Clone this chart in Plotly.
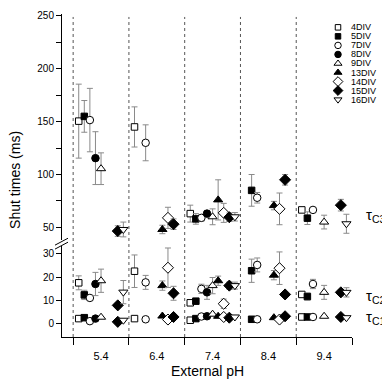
import plotly.graph_objects as go

# ---------------- data ----------------
PH = ["5.4", "6.4", "7.4", "8.4", "9.4"]
SERIES = ["4DIV", "5DIV", "7DIV", "8DIV", "9DIV", "13DIV", "14DIV", "15DIV", "16DIV"]

# tau C3 (upper panel) mean and error, per series, per pH
TC3 = [
    [150.5, 145, 63, None, 66.5],
    [155, None, 58, 85, 58.7],
    [151.5, 130, 59, 78, 66.5],
    [115.5, None, 63, None, None],
    [105.5, None, 60, None, 55],
    [None, 48, 76, 70.6, None],
    [None, 59, 63.7, 67.5, None],
    [46.5, 53, 59.6, 95, 71],
    [48, None, 60, None, 53.4],
]
TC3_ERR = [
    [35, 19, 8, None, 2],
    [15, None, 5, 15, 6],
    [30, 17, 3, 5, 2],
    [25, None, 3, None, None],
    [15, None, 7.5, None, 6.5],
    [None, 4, 19, 4, None],
    [None, 10, 9, 15, None],
    [5, 5, 4, 5, 5.5],
    [7, None, 4, None, 9],
]
# tau C2 (lower panel)
TC2 = [
    [17.5, 22.5, 8.9, None, 12.5],
    [12.3, None, 9.6, 22.7, 11.6],
    [11, 17.7, 14.9, 25.2, 17],
    [17, None, 13.4, None, None],
    [18.4, None, 16.3, None, 13.4],
    [None, 16.3, 18.4, 20.8, None],
    [None, 24, 8.5, 23.8, None],
    [7.8, 13, 16.3, 12.5, 13.4],
    [13.5, None, 16.3, None, 13.4],
]
TC2_ERR = [
    [3, 7, 1, None, 1],
    [2, None, 1, 5, 1.5],
    [1, 3, 2, 3, 2],
    [5, None, 3, None, None],
    [5, None, 3.5, None, 3],
    [None, 2, 2, 2, None],
    [None, 8.5, 2, 7, None],
    [1, 3, 1.5, 1, 1],
    [5, None, 1.5, None, 2],
]
# tau C1 (lower panel)
TC1 = [
    [2.1, 2.1, 1.4, None, 2.8],
    [2.5, None, 2.1, 1.8, 2.8],
    [1.0, 1.8, 3.0, 1.8, 2.8],
    [2.1, None, 3.1, None, None],
    [2.7, None, 4.0, None, 3.1],
    [None, 3.2, 3.1, 2.5, None],
    [None, 1.7, 2.8, 1.7, None],
    [0.7, 2.8, 2.5, 3.1, 2.8],
    [1.4, None, 2.8, None, 2.5],
]

UPPER_TICKS = [50, 100, 150, 200, 250]
UPPER_MINOR = [75, 125, 175, 225]
LOWER_TICKS = [0, 10, 20, 30]

# ---------------- styles ----------------
FONT = "Liberation Sans, Arial, sans-serif"
ERR_COLOR = "#8a8a8a"
STYLE = {
    "4DIV": ("square", "white", 6.5),
    "5DIV": ("square", "black", 6.5),
    "7DIV": ("circle", "white", 7.5),
    "8DIV": ("circle", "black", 7.5),
    "9DIV": ("triangle-up", "white", 8),
    "13DIV": ("triangle-up", "black", 8),
    "14DIV": ("diamond", "white", 8.5),
    "15DIV": ("diamond", "black", 8.5),
    "16DIV": ("triangle-down", "white", 8),
}

# page body has an 8px default margin: plot area on screen is x 62..352, y 10..337
PAGE_OFF = 8
SX0, SX1, SY0, SY1 = 62, 352, 10, 337
W, H = 390, 387
PW, PH_PX = SX1 - SX0, SY1 - SY0
U_BOT = 239  # screen px of upper panel bottom
L_TOPPX = 245  # screen px of lower panel top

N = len(PH)
fig = go.Figure()


def z(v):
    return [0 if e is None else e for e in v]


for k, s in enumerate(SERIES):
    sym, fill, size = STYLE[s]
    off = (k + 1) / 10
    xs = [i + off for i in range(N)]
    mk = dict(symbol=sym, color=fill, size=size, line=dict(color="black", width=1))
    eb = dict(type="data", color=ERR_COLOR, thickness=1, width=3)
    fig.add_trace(go.Scatter(
        x=xs, y=TC3[k], mode="markers", marker=mk,
        error_y=dict(eb, array=z(TC3_ERR[k])),
        xaxis="x", yaxis="y2", showlegend=False, cliponaxis=False))
    fig.add_trace(go.Scatter(
        x=xs + xs, y=TC2[k] + TC1[k], mode="markers", marker=mk,
        error_y=dict(eb, array=z(TC2_ERR[k]) + [0] * N),
        xaxis="x", yaxis="y", showlegend=False, cliponaxis=False))

# custom compact legend (marker column + text)
L_TOP, L_STEP = 23.5, 9.15  # screen px
for k, s in enumerate(SERIES):
    sym, fill, size = STYLE[s]
    ly = L_TOP + k * L_STEP
    yv = (U_BOT - ly) / (U_BOT - SY0)
    fig.add_trace(go.Scatter(
        x=[(338 - SX0) / PW], y=[yv], mode="markers",
        marker=dict(symbol=sym, color=fill, size=size - 1, line=dict(color="black", width=1)),
        xaxis="x3", yaxis="y3", showlegend=False, hoverinfo="skip"))
    fig.add_annotation(x=(349 - SX0) / PW, y=yv, xref="x3", yref="y3", text=s, showarrow=False,
                       xanchor="left", yanchor="middle", font=dict(size=9, family=FONT, color="black"))


def px(sx):
    return (sx - SX0) / PW


def py_(sy):
    return (SY1 - sy) / PH_PX


shapes = []
for b in range(N):
    shapes.append(dict(type="line", xref="x", yref="paper", x0=b, x1=b, y0=0, y1=py_(13),
                       line=dict(color="#555", width=1, dash="dot"), layer="below"))
# axis-break slashes
for dy in (0, 4):
    shapes.append(dict(type="line", xref="paper", yref="paper",
                       x0=px(55), x1=px(68),
                       y0=py_(244 + dy), y1=py_(237 + dy),
                       line=dict(color="black", width=1)))

# upper range: 250 at screen y=12, 50 at screen y=226
K_UP = (226 - 12) / 200.0
UP_TOP = 250 + (12 - SY0) / K_UP
UP_BOT = 250 - (U_BOT - 12) / K_UP

fig.update_layout(
    width=W, height=H,
    margin=dict(l=SX0 - PAGE_OFF, r=W - (SX1 - PAGE_OFF), t=SY0 - PAGE_OFF, b=H - (SY1 - PAGE_OFF)),
    paper_bgcolor="white", plot_bgcolor="white",
    font=dict(family=FONT, color="black"),
    shapes=shapes,
    xaxis=dict(domain=[0, 1], range=[-0.2, N], anchor="y",
               tickvals=[i + 0.5 for i in range(N)], ticktext=PH,
               ticks="", ticklabelstandoff=9, tickfont=dict(size=11),
               minor=dict(tickvals=list(range(N + 1)), ticks="outside", ticklen=7,
                          tickcolor="black", tickwidth=1),
               showline=True, linecolor="black", linewidth=1,
               showgrid=False, zeroline=False),
    yaxis=dict(domain=[0, py_(L_TOPPX)], range=[-5.82, 33.3], anchor="x",
               tickvals=LOWER_TICKS, ticks="outside", ticklen=5, tickcolor="black",
               tickfont=dict(size=10),
               showline=True, linecolor="black", linewidth=1,
               showgrid=False, zeroline=False),
    yaxis2=dict(domain=[py_(U_BOT), 1], range=[UP_BOT, UP_TOP], anchor="x",
                tickvals=UPPER_TICKS, ticks="outside", ticklen=5, tickcolor="black",
                tickfont=dict(size=10), ticklabeloverflow="allow",
                minor=dict(tickvals=UPPER_MINOR, ticks="outside", ticklen=5,
                           tickcolor="black", tickwidth=1),
                showline=True, linecolor="black", linewidth=1,
                showgrid=False, zeroline=False),
    xaxis3=dict(range=[0, 1], overlaying="x", anchor="y3", visible=False, fixedrange=True),
    yaxis3=dict(range=[0, 1], overlaying="y2", anchor="x3", visible=False, fixedrange=True),
    annotations=list(fig.layout.annotations) + [
        dict(text="Shut times (ms)", xref="paper", yref="paper",
             x=px(15), y=py_(178), textangle=-90,
             showarrow=False, font=dict(size=14), xanchor="center", yanchor="middle"),
        dict(text="External pH", xref="paper", yref="paper",
             x=px(207), y=py_(371),
             showarrow=False, font=dict(size=14), xanchor="center", yanchor="middle"),
        dict(text="τ<sub>C3</sub>", xref="paper", yref="paper",
             x=px(364), y=py_(214), showarrow=False,
             font=dict(size=15), xanchor="left", yanchor="middle"),
        dict(text="τ<sub>C2</sub>", xref="paper", yref="paper",
             x=px(364), y=py_(296), showarrow=False,
             font=dict(size=15), xanchor="left", yanchor="middle"),
        dict(text="τ<sub>C1</sub>", xref="paper", yref="paper",
             x=px(364), y=py_(317), showarrow=False,
             font=dict(size=15), xanchor="left", yanchor="middle"),
    ],
)

fig.write_html("out.html")
